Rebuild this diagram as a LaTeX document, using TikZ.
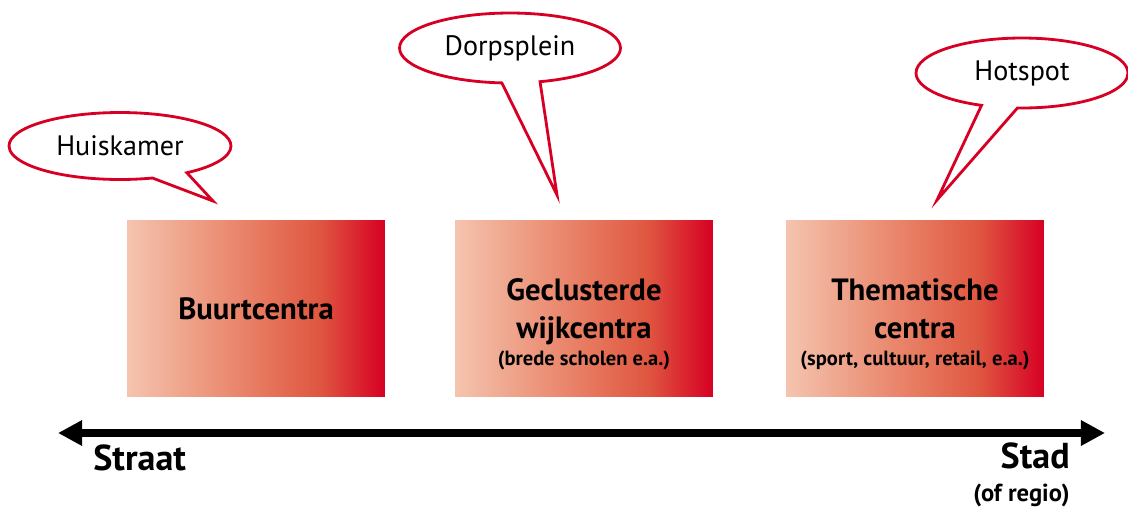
\documentclass[tikz,border=0pt]{standalone}
\usepackage{fontspec}
\setmainfont{PT Sans}
\usetikzlibrary{arrows.meta}
\usetikzlibrary{shapes.callouts}

\definecolor{signalred}{RGB}{215,0,36}
\definecolor{peach}{RGB}{245,196,175}
\definecolor{apricot}{RGB}{238,160,135}
\definecolor{salmon}{RGB}{231,123,97}
\definecolor{coral}{RGB}{223,86,64}
\pgfdeclarehorizontalshading{warmth}{100bp}{color(0bp)=(peach); color(25bp)=(peach);
  color(37.5bp)=(apricot); color(50bp)=(salmon); color(62.5bp)=(coral); color(75bp)=(signalred); color(100bp)=(signalred)}
\newcommand{\remark}[1]{{\fontsize{11.7}{14}\selectfont #1}}

\begin{document}
\begin{tikzpicture}[x=0.02cm,y=-0.02cm]
  \tikzset{centre/.style = {shape=rectangle,minimum width=5.16cm,minimum height=3.54cm,inner sep=0pt,
      shading=warmth,align=center,font=\bfseries\fontsize{17.5}{21.6}\selectfont}}
  \tikzset{centretext/.style = {align=center,inner sep=0pt,font=\bfseries\fontsize{17.5}{21.6}\selectfont}}
  \tikzset{bubble/.style = {shape=ellipse callout,draw=signalred,line width=1.6pt,fill=white,
      inner sep=0pt,callout pointer arc=20,font=\fontsize{16}{19}\selectfont}}
  \tikzset{edge/.style = {{Triangle[length=13.7pt,width=13.7pt]}-{Triangle[length=13.7pt,width=13.7pt]},line width=4pt}}

  \useasboundingbox (0,0) rectangle (1128,508);

  % centres
  \node[centre] (buurt) at (256,308.5) {Buurtcentra};
  \node[centre] (wijk) at (584,308.5) {};
  \node[centre] (thema) at (915,308.5) {};
  \node[centretext] (wijktext) at ([yshift=-9pt]wijk.center) {Geclusterde\\wijkcentra\\[-6pt]\remark{(brede scholen e.a.)}};
  \node[centretext] (thematext) at ([yshift=-9pt]thema.center) {Thematische\\centra\\[-6pt]\remark{(sport, cultuur, retail, e.a.)}};

  % speech bubbles
  \coordinate (hktip) at (213,201);
  \coordinate (dptip) at (557,195);
  \coordinate (hstip) at (937,200);
  \node[bubble,minimum width=4.44cm,minimum height=1.34cm,callout absolute pointer={(hktip)}] (huiskamer) at (120,146) {Huiskamer};
  \node[bubble,minimum width=4.42cm,minimum height=1.40cm,callout absolute pointer={(dptip)}] (dorpsplein) at (510,48) {Dorpsplein};
  \node[bubble,minimum width=4.24cm,minimum height=1.40cm,callout absolute pointer={(hstip)}] (hotspot) at (1022,73) {Hotspot};

  % scale axis
  \coordinate (left) at (58,433);
  \coordinate (right) at (1105,433);
  \draw[edge] (left) -- (right);
  \node[anchor=base west,font=\bfseries\fontsize{20.5}{24}\selectfont,inner sep=0pt] (straat) at (93,470) {Straat};
  \node[anchor=base east,font=\bfseries\fontsize{20.5}{24}\selectfont,inner sep=0pt] (stad) at (1070,468) {Stad};
  \node[anchor=base east,font=\bfseries\fontsize{14}{16}\selectfont,inner sep=0pt] (regio) at (1070,501) {(of regio)};
\end{tikzpicture}
\end{document}
